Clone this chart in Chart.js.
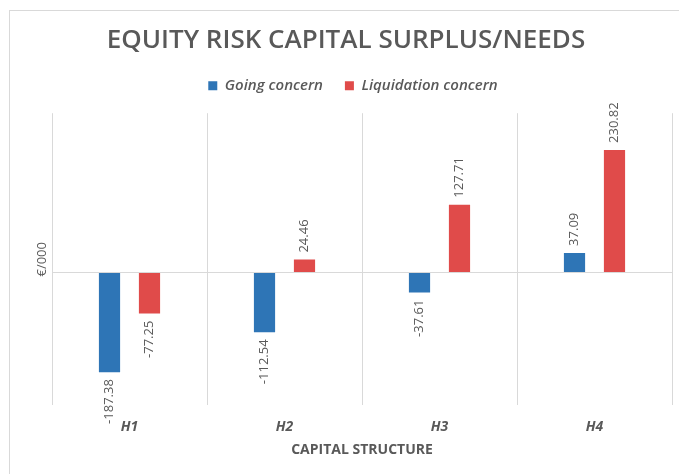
<!DOCTYPE html>
<html>
<head>
<meta charset="utf-8">
<script src="https://cdn.jsdelivr.net/npm/chart.js@4"></script>
<style>
  html, body { margin: 0; padding: 0; background: #fff; }
  #wrap { position: relative; width: 679px; height: 474px; overflow: hidden; }
  #frame { position: absolute; left: 9px; top: 10px; width: 700px; height: 500px; border: 1px solid #d9d9d9; box-sizing: border-box; }
  canvas { position: absolute; left: 0; top: 0; }
</style>
</head>
<body>
<div id="wrap">
  <div id="frame"></div>
  <canvas id="c" width="679" height="474"></canvas>
</div>
<script>
/* data */
const categories = ["H1", "H2", "H3", "H4"];
const goingConcern = [-187.38, -112.54, -37.61, 37.09];
const liquidationConcern = [-77.25, 24.46, 127.71, 230.82];
const seriesLabels = ["Going concern", "Liquidation concern"];

const INK = "#595959";
const GRID = "#d9d9d9";

// rotated value labels at the bar ends
const barLabels = {
  id: "barLabels",
  afterDatasetsDraw(chart) {
    const ctx = chart.ctx;
    ctx.save();
    ctx.fillStyle = INK;
    ctx.font = "13px 'Open Sans', sans-serif";
    ctx.textBaseline = "middle";
    chart.data.datasets.forEach((ds, i) => {
      chart.getDatasetMeta(i).data.forEach((bar, j) => {
        const v = ds.data[j];
        const up = v >= 0;
        ctx.save();
        ctx.translate(bar.x, bar.y + (up ? -7 : 7));
        ctx.rotate(-Math.PI / 2);
        ctx.textAlign = up ? "left" : "right";
        ctx.fillText(v.toFixed(2), 0, 0);
        ctx.restore();
      });
    });
    ctx.restore();
  },
};

// extra gap under the legend, legend nudged right a little
const legendTweak = {
  id: "legendTweak",
  beforeInit(chart) {
    const fit = chart.legend.fit;
    chart.legend.fit = function () { fit.call(this); this.height += 10; };
  },
  afterLayout(chart) {
    chart.legend.left += 7;
    chart.legend.right += 7;
  },
};

new Chart(document.getElementById("c"), {
  type: "bar",
  data: {
    labels: categories,
    datasets: [
      { label: seriesLabels[0], data: goingConcern, backgroundColor: "#2E75B6" },
      { label: seriesLabels[1], data: liquidationConcern, backgroundColor: "#E04B4A" },
    ],
  },
  options: {
    responsive: false,
    animation: false,
    layout: { padding: { left: 20, right: 7, top: 12, bottom: 9 } },
    datasets: { bar: { categoryPercentage: 0.516, barPercentage: 0.53 } },
    scales: {
      x: {
        grid: { color: GRID, drawTicks: false },
        border: { display: false },
        ticks: { color: INK, padding: 13, font: { family: "'Open Sans', sans-serif", size: 14, style: "italic", weight: 700 } },
        title: { display: true, text: "CAPITAL STRUCTURE", color: INK, padding: { top: -7, bottom: 7 }, font: { family: "'Open Sans', sans-serif", size: 14, weight: 700 } },
      },
      y: {
        min: -250, max: 300,
        ticks: { display: false, stepSize: 50 },
        grid: { drawTicks: false, color: (c) => (c.tick && c.tick.value === 0 ? GRID : "transparent") },
        border: { display: false },
        title: { display: true, text: "€/000", color: INK, padding: { top: 14, bottom: 0 }, font: { family: "'Open Sans', sans-serif", size: 13 } },
        afterFit: (s) => { s.width = 32; },
      },
    },
    plugins: {
      title: {
        display: true, text: "EQUITY RISK CAPITAL SURPLUS/NEEDS", color: INK,
        padding: { top: 13, bottom: 0 },
        font: { family: "'Open Sans', sans-serif", size: 26, weight: 600 },
      },
      legend: {
        display: true,
        labels: { color: INK, boxWidth: 9, boxHeight: 9, padding: 22, font: { family: "'Open Sans', sans-serif", size: 15, style: "italic", weight: 600 } },
      },
      tooltip: { enabled: false },
    },
  },
  plugins: [barLabels, legendTweak],
});
</script>
</body>
</html>
